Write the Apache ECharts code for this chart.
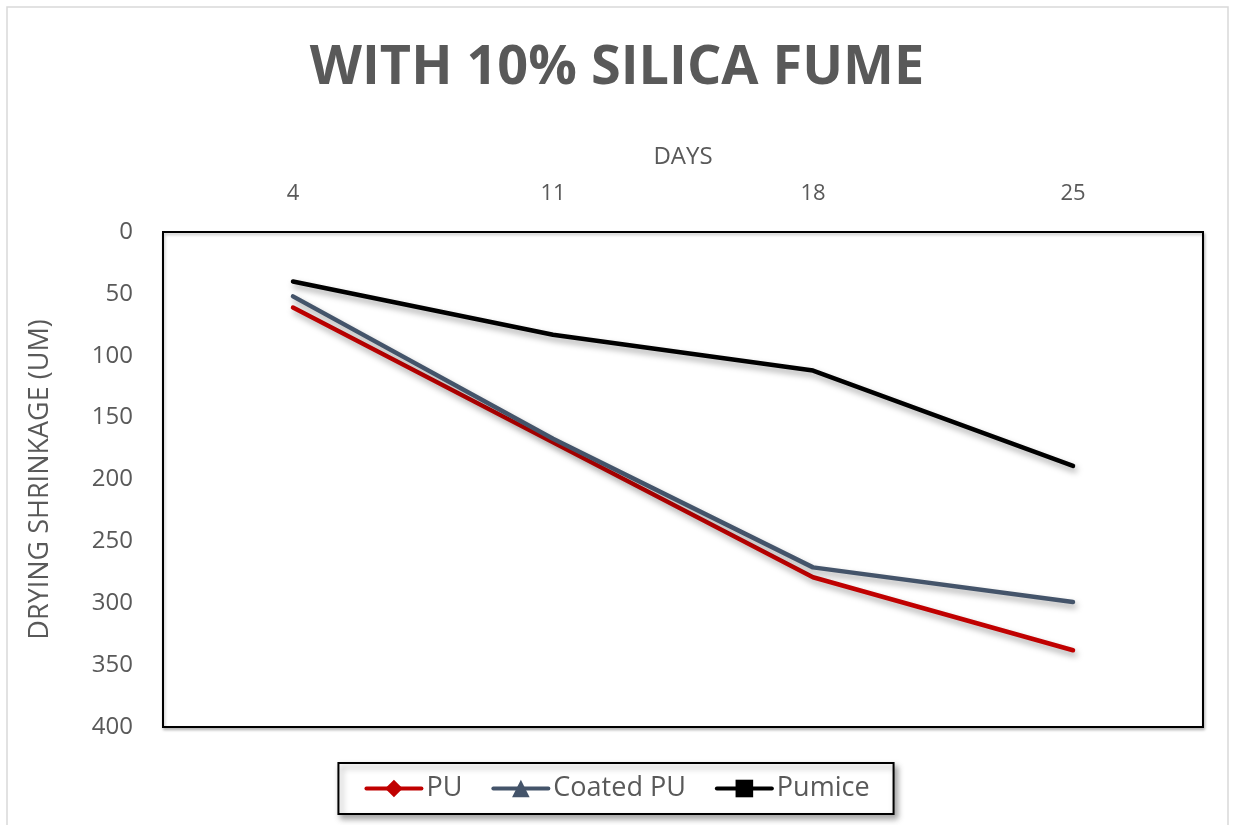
<!DOCTYPE html>
<html>
<head>
<meta charset="utf-8">
<title>With 10% Silica Fume</title>
<script src="https://cdn.jsdelivr.net/npm/echarts@6/dist/echarts.min.js"></script>
<style>
  html, body { margin: 0; padding: 0; background: #fff; }
  #chart { width: 1234px; height: 825px; }
</style>
</head>
<body>
<div id="chart"></div>
<script>
// Drying shrinkage readings by age (days)
const days = ['4', '11', '18', '25'];
const seriesNames = ['PU', 'Coated PU', 'Pumice'];
const puValues = [61, 170, 279, 338];
const coatedPuValues = [52, 167, 271, 299];
const pumiceValues = [40, 83, 112, 189];

const textGray = '#595959';
const fontFamily = '"Open Sans", "Noto Sans", sans-serif';

const lineShadow = {
  shadowColor: 'rgba(0,0,0,0.35)',
  shadowBlur: 6,
  shadowOffsetX: 2,
  shadowOffsetY: 4
};

function makeSeries(name, data, color, symbol) {
  return {
    name: name,
    type: 'line',
    data: data,
    symbol: symbol,
    symbolSize: 14,
    showSymbol: false,
    smooth: false,
    itemStyle: { color: color },
    lineStyle: Object.assign({ color: color, width: 4.5, cap: 'round', join: 'round' }, lineShadow),
    emphasis: { disabled: true },
    animation: false
  };
}

const chart = echarts.init(document.getElementById('chart'));
chart.setOption({
  backgroundColor: '#fff',
  animation: false,
  graphic: [{
    type: 'rect',
    shape: { x: 7, y: 7, width: 1221, height: 830 },
    style: { fill: 'none', stroke: '#d9d9d9', lineWidth: 1.5 },
    silent: true,
    z: -1
  }],
  title: {
    text: 'WITH 10% SILICA FUME',
    left: 'center',
    top: 37,
    textStyle: {
      fontFamily: fontFamily,
      fontSize: 54,
      fontWeight: 'bold',
      color: textGray
    }
  },
  legend: {
    data: seriesNames,
    bottom: 11,
    left: 'center',
    itemWidth: 55,
    itemHeight: 22,
    itemGap: 29,
    padding: [12, 24, 12, 26],
    borderColor: '#000',
    borderWidth: 2,
    backgroundColor: '#fff',
    shadowColor: 'rgba(0,0,0,0.35)',
    shadowBlur: 6,
    shadowOffsetX: 3,
    shadowOffsetY: 4,
    lineStyle: { width: 4 },
    textStyle: {
      fontFamily: fontFamily,
      fontSize: 27,
      color: textGray
    }
  },
  grid: {
    left: 163,
    right: 31,
    top: 232,
    bottom: 98,
    show: true,
    borderColor: '#000',
    borderWidth: 2,
    backgroundColor: '#fff',
    shadowColor: 'rgba(0,0,0,0.25)',
    shadowBlur: 3,
    shadowOffsetX: 1,
    shadowOffsetY: 2
  },
  xAxis: {
    type: 'category',
    position: 'top',
    data: days,
    boundaryGap: true,
    name: 'DAYS',
    nameLocation: 'middle',
    nameGap: 63,
    nameTextStyle: { fontFamily: fontFamily, fontSize: 24, color: textGray },
    axisLine: { show: false },
    axisTick: { show: false },
    axisLabel: { fontFamily: fontFamily, fontSize: 22, color: textGray, margin: 27 },
    splitLine: { show: false }
  },
  yAxis: {
    type: 'value',
    inverse: true,
    min: 0,
    max: 400,
    interval: 50,
    name: 'DRYING SHRINKAGE (UM)',
    nameLocation: 'middle',
    nameGap: 109,
    nameRotate: 90,
    nameTextStyle: { fontFamily: fontFamily, fontSize: 27, color: textGray },
    axisLine: { show: false },
    axisTick: { show: false },
    axisLabel: { fontFamily: fontFamily, fontSize: 24, color: textGray, margin: 30 },
    splitLine: { show: false }
  },
  series: [
    makeSeries(seriesNames[0], puValues, '#C00000', 'diamond'),
    makeSeries(seriesNames[1], coatedPuValues, '#44546A', 'triangle'),
    makeSeries(seriesNames[2], pumiceValues, '#000000', 'rect')
  ]
});
</script>
</body>
</html>
